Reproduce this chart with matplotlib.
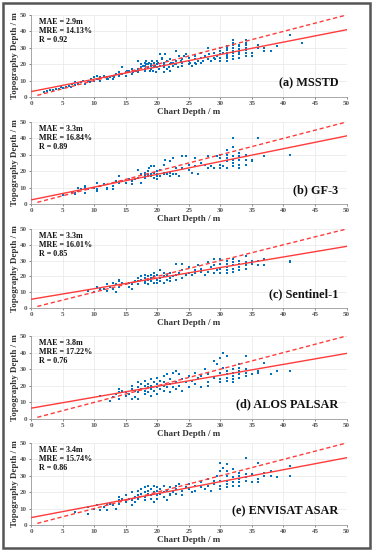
import numpy as np
import matplotlib
matplotlib.use("Agg")
import matplotlib.pyplot as plt
from matplotlib.patches import Rectangle

# ---- data ----
labels = ["(a) MSSTD", "(b) GF-3", "(c) Sentinel-1", "(d) ALOS PALSAR", "(e) ENVISAT ASAR"]
mae = ["2.9m", "3.3m", "3.3m", "3.8m", "3.4m"]
mre = ["14.13%", "16.84%", "16.01%", "17.22%", "15.74%"]
rval = ["0.92", "0.89", "0.85", "0.76", "0.86"]

# fitted lines (intercept, value at 50 m)
fit_y0 = [3.3, 2.5, 5.5, 6.5, 4.5]
fit_y50 = [41.0, 41.5, 39.0, 39.5, 41.0]

x_a = [2, 2.5, 3, 3.5, 4, 4.5, 4.8, 5, 5.5, 6, 6.3, 6.5, 7, 7, 7.5, 8, 8.3, 8.5, 9, 9.3, 9.5, 10, 10,
       10.5, 10.5, 11, 11, 11.5, 12, 12, 12.5, 13, 13, 13.5, 14, 14, 14.5, 14.5, 15, 15,
       15.5, 16, 16, 16.5, 17, 17, 17, 17.5, 17.5, 18, 18, 18, 18, 18.3, 18.5, 18.5, 18.7, 19, 19, 19,
       19.3, 19.5, 19.5, 19.8, 20, 20, 20, 20.3, 20.5, 20.5, 20.8, 21, 21, 21, 21, 21.3, 21.5, 21.5,
       22, 22, 22, 22.5, 22.5, 23, 23, 23, 23.3, 23.5, 24, 24, 24, 24.5, 25, 25, 25, 25.5, 26, 26, 26,
       26.5, 27, 27, 27, 27.5, 28, 28, 28.5, 29, 29, 29.5, 30, 30, 30, 30, 30, 30.5,
       17.8, 18.2, 18.8, 19.2, 19.7, 20.2, 20.7, 21.8, 22.2, 22.8, 23.8, 24.2, 25.2, 26.2, 27.2, 28.2, 29.2,
       12.2, 13.2, 14.2, 15.2, 16.2, 16.8,
       31, 31, 31, 31, 31, 31, 31, 31, 31,
       32, 32, 32, 32, 32, 32, 32, 32,
       33, 33, 33, 33, 33, 33,
       34, 34, 34, 34, 34, 34, 34,
       35, 35, 36, 36, 37, 37, 38, 39, 41, 43]
y_a = [3, 3.5, 4, 4, 5, 5, 6, 5.5, 6, 7, 6, 8, 7.5, 9, 8, 9, 10, 8, 10, 9, 11, 12, 10,
       11, 13, 12, 10, 13, 11, 12, 12, 13, 11, 14, 15, 13, 18, 14, 15, 13,
       16, 17, 14, 16, 22, 17, 15, 20, 18, 21, 19, 17, 16, 22, 20, 18, 21, 19, 17, 20,
       16, 21, 18, 15, 20, 18, 22, 17, 19, 26, 24, 21, 18, 15, 20, 26, 22, 17,
       20, 23, 16, 21, 19, 22, 28, 20, 18, 25, 21, 23, 19, 26, 22, 20, 24, 19, 25, 21, 23,
       22, 24, 27, 21, 25, 23, 30, 22, 24, 27, 25, 24, 26, 28, 30, 22, 27,
       19, 20, 16, 22, 19, 21, 23, 18, 21, 20, 22, 25, 21, 20, 22, 26, 23,
       11, 12, 14, 16, 15, 16,
       22, 23.5, 25, 26, 27, 28.5, 29.5, 30.5, 31,
       23, 25, 27, 28, 30, 31.5, 33, 35,
       24, 26, 27.5, 29, 31, 32,
       25, 27, 28.5, 30, 31.5, 33, 35,
       25, 27, 30, 32, 28, 30, 28, 31, 38, 33]

x_b = [5, 5, 6.5, 7, 7, 7.5, 7.5, 8, 8.5, 8.5, 8.5, 9, 10, 10.5, 10.5, 10.5, 11, 11.5, 12, 12,
       13, 13, 13.5, 14, 14, 14.5, 15, 15.5, 16, 16, 16.5, 17, 17, 17.5, 17.5, 18, 18, 18, 18,
       18.5, 18.5, 18.5, 18.7, 19, 19, 19, 19.5, 19.5, 19.5, 20, 20, 20, 20, 20.5, 20.5, 21, 21, 21,
       21.3, 21.5, 22, 22, 22, 22.5, 22.5, 23, 23, 23.5, 24, 24, 24.5, 25, 25, 25.5, 26, 26, 26.5,
       27, 27.5, 28, 28, 28.5, 29, 29.5, 30, 30, 30, 30, 30.5, 31, 31, 31, 31, 31,
       32, 32, 32, 32, 32, 32, 33, 33, 33, 33, 33, 34, 34, 34, 35, 35, 36, 37, 41]
y_b = [5.5, 6, 7, 6, 7, 8, 10, 9, 10, 7, 11, 9, 10, 13, 9, 8, 11, 12, 10, 9,
       11, 9, 14, 17, 13, 14, 13, 15, 12, 14, 15, 16, 21, 18, 13, 19, 17, 16, 18,
       18, 20, 17, 22, 18, 17, 23, 16, 19, 23, 17, 18, 15, 20, 21, 17, 18, 19, 24,
       27, 18, 17, 19, 26, 18, 28, 18, 22, 17, 29, 22, 29, 24, 21, 19, 28, 23, 18,
       25, 24, 22, 29, 23, 22, 29, 28, 22, 30, 24, 23, 22, 26, 30, 33, 28,
       40, 35, 29, 27, 25, 23, 31, 29, 27, 24, 22, 30, 27, 24, 27, 26, 40, 29, 30]

x_c = [9, 10, 10.5, 11, 11.5, 12, 12, 12.5, 13, 13, 13.5, 13.5, 14, 14, 14, 14.5, 15, 15.5, 15.5,
       16, 16, 16.5, 17, 17, 17, 17.5, 17.5, 18, 18, 18, 18, 18.5, 18.5, 18.5, 19, 19, 19,
       19.5, 19.5, 19.5, 20, 20, 20, 20.5, 20.5, 20.5, 21, 21, 21, 21.5, 21.5, 22, 22, 22, 22.5,
       23, 23, 23, 23.5, 24, 24, 24, 24.5, 25, 25, 25.5, 26, 26, 26.5, 27, 27, 27.5, 28, 28,
       28.5, 29, 29, 29, 29.5, 30, 30, 30, 30, 31, 31, 31, 31, 31, 32, 32, 32, 32, 32,
       33, 33, 33, 33, 34, 34, 34, 34, 35, 35, 36, 36, 37, 37, 41, 41]
y_c = [11, 10, 13, 12, 12, 15, 11, 13, 16, 12, 10, 15, 17, 18, 13, 16, 15, 13, 16,
       12, 15, 17, 17, 19, 15, 20, 18, 19, 21, 17, 16, 20, 18, 15, 21, 19, 17,
       16, 20, 22, 18, 21, 16, 19, 24, 17, 20, 22, 16, 18, 21, 19, 17, 22, 20,
       28, 18, 21, 22, 28, 19, 24, 21, 22, 26, 21, 24, 22, 27, 23, 25, 21, 29, 23,
       26, 31, 22, 27, 24, 31, 22, 28, 25, 22, 24, 26, 28, 30, 23, 25, 27, 29, 31,
       24, 26, 28, 30, 25, 27, 29, 33, 28, 30, 27, 30, 27, 31, 29, 30]

x_d = [11, 12.5, 13, 13.5, 14, 14, 14, 14.5, 15, 15, 15.5, 16, 16, 16, 16.5, 16.5, 17, 17, 17, 17,
       17.5, 17.5, 18, 18, 18, 18, 18.5, 18.5, 18.5, 19, 19, 19, 19, 19.5, 19.5, 20, 20, 20, 20,
       20.5, 20.5, 21, 21, 21, 21, 21.5, 21.5, 22, 22, 22, 22.5, 22.5, 23, 23, 23, 23.5, 23.5,
       24, 24, 24.5, 25, 25, 25.5, 26, 26, 26.5, 27, 27, 27.5, 28, 28, 28, 29, 29, 29.5,
       30, 30, 30, 30, 30.5, 30.5, 31, 31, 31, 31, 31, 32, 32, 32, 32, 32,
       33, 33, 33, 33, 33, 34, 34, 34, 34, 35, 36, 36, 37, 38, 39, 41]
y_d = [14, 11, 13, 15, 18, 16, 12, 17, 16, 14, 15, 12, 18, 20, 17, 13, 19, 16, 22, 12,
       18, 21, 20, 17, 15, 23, 19, 21, 16, 20, 24, 18, 14, 22, 17, 25, 19, 21, 15,
       18, 23, 26, 20, 17, 22, 19, 27, 24, 21, 16, 28, 19, 22, 29, 18, 27, 20,
       24, 17, 22, 26, 19, 23, 28, 21, 25, 26, 19, 30, 22, 27, 20, 25, 35, 33,
       28, 24, 37, 22, 31, 40, 25, 27, 29, 23, 38, 24, 26, 28, 30, 22,
       25, 27, 29, 31, 33, 26, 28, 30, 38, 27, 28, 29, 34, 27, 29, 29]

x_e = [7, 9, 9, 10, 10.5, 11, 11.5, 12, 12, 12.5, 13, 13.5, 14, 14, 14, 14.5, 15, 15, 15.5,
       16, 16, 16, 16.5, 16.5, 17, 17, 17, 17.5, 17.5, 18, 18, 18, 18, 18.5, 18.5, 18.5,
       19, 19, 19, 19.5, 19.5, 19.5, 20, 20, 20, 20, 20.5, 20.5, 21, 21, 21, 21.5, 21.5,
       22, 22, 22, 22.5, 23, 23, 23, 23.5, 24, 24, 24.5, 25, 25, 25.5, 26, 26, 27, 27, 27.5,
       28, 28, 28.5, 29, 29, 29.5, 30, 30, 30, 30, 30, 30.5, 31, 31, 31, 31, 31, 31,
       32, 32, 32, 32, 33, 33, 33, 33, 33, 34, 34, 34, 34, 35, 35, 36, 36, 36,
       37, 37, 38, 38, 39, 41, 41]
y_e = [8, 7, 11, 10, 12, 9, 11, 13, 9, 13, 12, 10, 15, 17, 13, 16, 14, 18, 16,
       20, 12, 15, 17, 14, 18, 21, 16, 19, 22, 20, 17, 23, 15, 21, 19, 24,
       22, 18, 16, 20, 24, 14, 21, 18, 23, 16, 19, 22, 20, 24, 17, 15, 21,
       19, 23, 18, 20, 24, 22, 19, 25, 21, 18, 23, 22, 25, 20, 24, 21, 23, 26, 22,
       24, 28, 21, 27, 25, 30, 38, 33, 27, 24, 22, 35, 37, 33, 30, 27, 25, 23,
       29, 26, 24, 34, 24, 26, 28, 30, 32, 27, 29, 31, 41, 26, 31, 26, 28, 38,
       30, 32, 30, 33, 29, 30, 36]

xs = [x_a, x_b, x_c, x_d, x_e]
ys = [y_a, y_b, y_c, y_d, y_e]

# ---- figure ----
plt.rcParams["font.family"] = ["Liberation Serif", "DejaVu Serif"]
plt.rcParams["font.weight"] = "bold"

W, H = 372, 550
fig = plt.figure(figsize=(W / 100, H / 100), dpi=100)

# pixel boxes of each panel (top, bottom)
panel_px = [(15, 97), (122, 204), (229, 308), (336, 419), (443, 525)]
left_px, right_px = 31, 346.5

blue = "#0072BD"
red = "#FF3B3B"
tick_col = "#555555"

for i in range(5):
    top, bot = panel_px[i]
    ax = fig.add_axes([left_px / W, 1 - bot / H, (right_px - left_px) / W, (bot - top) / H])

    ax.scatter(xs[i], ys[i], s=2.2, color=blue, marker="s", linewidths=0, zorder=3)

    xx = np.array([0, 50])
    ax.plot(xx, [fit_y0[i], fit_y50[i]], color=red, lw=1.0, zorder=4)
    ax.plot([1, 50], [1, 50], color=red, lw=1.0, ls=(0, (3, 2)), zorder=4)

    ax.set_xlim(0, 50)
    ax.set_ylim(0, 50)
    ax.set_xticks(np.arange(0, 51, 5))
    ax.set_yticks(np.arange(0, 51, 10))
    ax.grid(True, color="#e8e8e8", lw=0.5)
    ax.set_axisbelow(True)

    for s in ["top", "right"]:
        ax.spines[s].set_visible(False)
    for s in ["left", "bottom"]:
        ax.spines[s].set_color("#9a9a9a")
        ax.spines[s].set_linewidth(0.6)
    ax.tick_params(axis="both", labelsize=5, colors=tick_col, length=1.5, width=0.5, pad=1.5)
    for lab in ax.get_xticklabels() + ax.get_yticklabels():
        lab.set_fontweight("bold")

    ax.set_xlabel("Chart Depth / m", fontsize=6.5, fontweight="bold", color="#333333", labelpad=1)
    ax.set_ylabel("Topography Depth / m", fontsize=6.5, fontweight="bold", color="#333333", labelpad=0.5)

    ax.text(0.025, 0.96, "MAE = " + mae[i] + "\nMRE = " + mre[i] + "\nR = " + rval[i],
            transform=ax.transAxes, fontsize=5.8, fontweight="bold", va="top", ha="left",
            color="#111111", linespacing=1.15)
    ax.text(0.975, 0.1, labels[i], transform=ax.transAxes, fontsize=8.8, fontweight="bold",
            ha="right", va="bottom", color="#111111")

# outer frame
fig.patches.append(Rectangle((2.5 / W, 2.5 / H), (W - 5) / W, (H - 5) / H, transform=fig.transFigure,
                             fill=False, edgecolor="#555555", lw=1.8))

fig.savefig("out.png", dpi=100)
